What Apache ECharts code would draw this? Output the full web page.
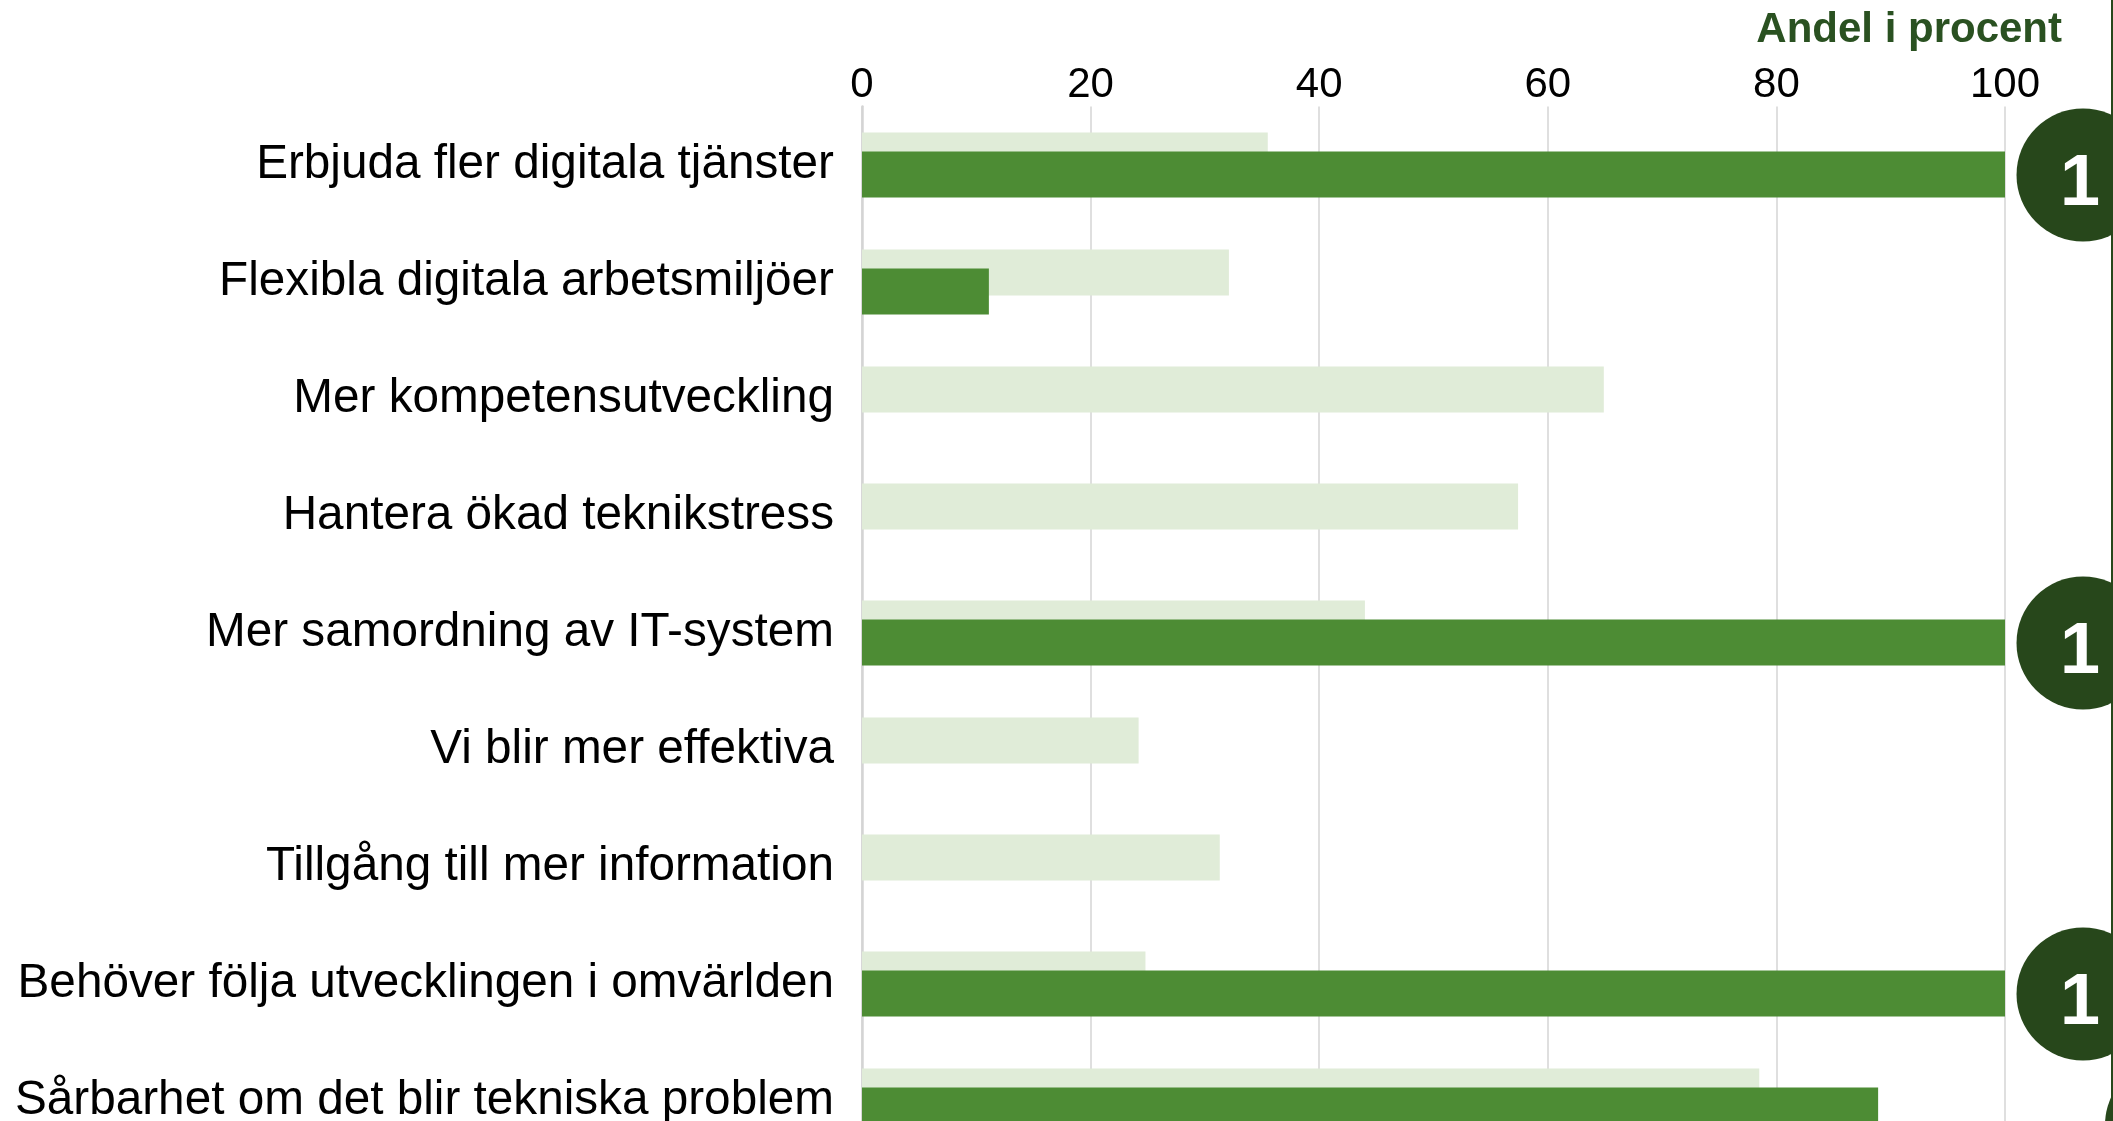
<!DOCTYPE html>
<html>
<head>
<meta charset="utf-8">
<script src="https://cdn.jsdelivr.net/npm/echarts@6/dist/echarts.min.js"></script>
<style>
  html, body { margin: 0; padding: 0; background: #ffffff; }
  #chart { width: 2113px; height: 1121px; }
</style>
</head>
<body>
<div id="chart"></div>
<script>
// Categories, top to bottom
var categories = [
  'Erbjuda fler digitala tjänster',
  'Flexibla digitala arbetsmiljöer',
  'Mer kompetensutveckling',
  'Hantera ökad teknikstress',
  'Mer samordning av IT-system',
  'Vi blir mer effektiva',
  'Tillgång till mer information',
  'Behöver följa utvecklingen i omvärlden',
  'Sårbarhet om det blir tekniska problem'
];

// Share in percent – comparison group (light) and own organisation (dark)
var comparisonValues = [35.5, 32.1, 64.9, 57.4, 44.0, 24.2, 31.3, 24.8, 78.5];
var ownValues = [100, 11.1, 0, 0, 100, 0, 0, 100, 88.9];

// Number badges shown to the right of selected rows
var badgeCategories = ['Erbjuda fler digitala tjänster', 'Mer samordning av IT-system', 'Behöver följa utvecklingen i omvärlden'];
var badgeLabels = ['1', '1', '1'];

var axisTitle = 'Andel i procent';

var LIGHT = '#e0ecd8';
var DARK = '#4d8c34';
var DEEP = '#27471b';
var FONT = 'Liberation Sans, Arial, sans-serif';

var chart = echarts.init(document.getElementById('chart'), null, { renderer: 'canvas' });

var gridTop = 106.5;
var gridHeight = 1053;

chart.setOption({
  animation: false,
  textStyle: { fontFamily: FONT },
  grid: [
    { left: 862, top: gridTop, width: 1143, height: gridHeight, containLabel: false, outerBoundsMode: 'none' },
    { left: 2017, top: gridTop, width: 132, height: gridHeight, containLabel: false, outerBoundsMode: 'none' }
  ],
  xAxis: [
    {
      gridIndex: 0, type: 'value', position: 'top', min: 0, max: 100, interval: 20,
      axisLine: { show: false }, axisTick: { show: false },
      splitLine: { show: true, lineStyle: { color: '#d4d4d4', width: 1.5 } },
      axisLabel: { color: '#000', fontSize: 42, margin: 0, fontFamily: FONT }
    },
    { gridIndex: 1, type: 'value', min: 0, max: 1, show: false }
  ],
  yAxis: [
    {
      gridIndex: 0, type: 'category', data: categories, inverse: true,
      axisLine: { show: true, lineStyle: { color: '#d4d4d4', width: 2.5 } },
      axisTick: { show: false },
      splitLine: { show: false },
      axisLabel: { color: '#000', fontSize: 47.7, margin: 28, fontFamily: FONT }
    },
    { gridIndex: 1, type: 'category', data: categories, inverse: true, show: false }
  ],
  series: [
    {
      name: 'Jämförelse', type: 'bar', xAxisIndex: 0, yAxisIndex: 0,
      data: comparisonValues, barWidth: 46, barGap: '-58.7%',
      itemStyle: { color: LIGHT }, silent: true
    },
    {
      name: 'Egen organisation', type: 'bar', xAxisIndex: 0, yAxisIndex: 0,
      data: ownValues, barWidth: 46, barGap: '-58.7%',
      itemStyle: { color: DARK }, silent: true
    },
    {
      name: 'Antal', type: 'scatter', xAxisIndex: 1, yAxisIndex: 1,
      data: badgeCategories.map(function (c, i) { return { value: [0.5, c], label: badgeLabels[i] }; }),
      symbol: 'circle', symbolSize: 133, symbolOffset: [0, 10],
      itemStyle: { color: DEEP, opacity: 1 },
      clip: false, silent: true,
      label: {
        show: true, position: 'inside', offset: [-3, 10],
        formatter: function (p) { return p.data.label; },
        color: '#fff', fontSize: 72, fontWeight: 'bold', fontFamily: FONT
      }
    }
  ],
  graphic: [
    {
      type: 'text', right: 51, top: 9,
      style: { text: axisTitle, fill: '#2a5121', fontSize: 42, fontWeight: 'bold', fontFamily: FONT }
    },
    {
      type: 'line', silent: true,
      shape: { x1: 2112, y1: 0, x2: 2112, y2: 1100 },
      style: { stroke: DEEP, lineWidth: 2 }
    },
    {
      type: 'circle', silent: true,
      shape: { cx: 2171, cy: 1125, r: 66 },
      style: { fill: DEEP }
    }
  ]
});
</script>
</body>
</html>
